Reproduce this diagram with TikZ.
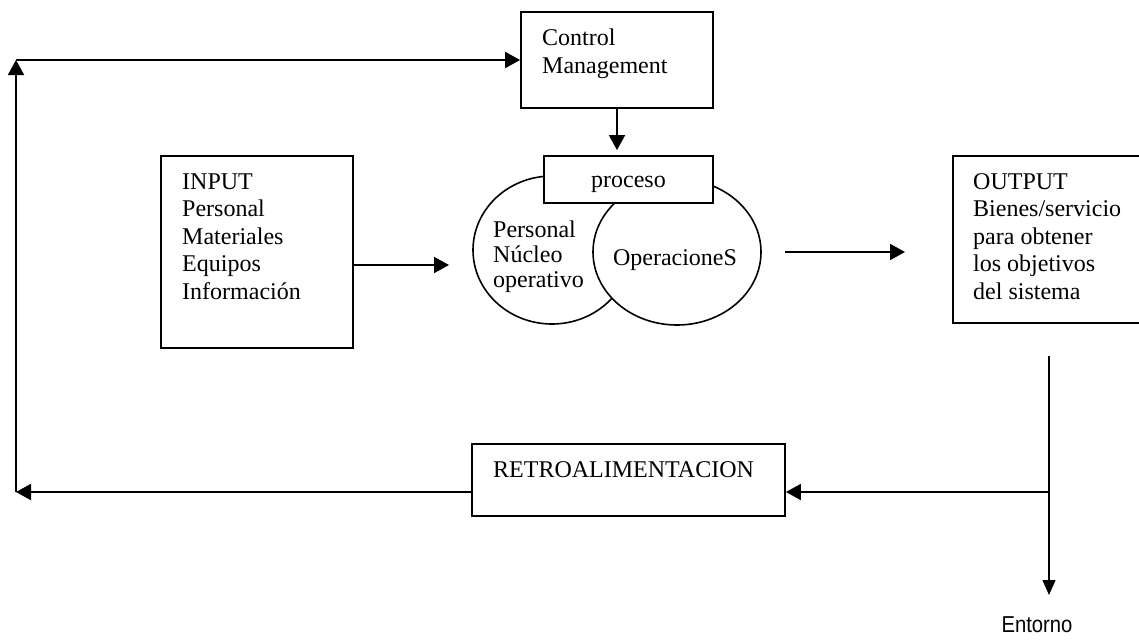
\documentclass[tikz,border=0pt]{standalone}
\usepackage{fontspec}
\setmainfont{Liberation Serif}
\newfontfamily\entfont[FakeStretch=0.88]{Liberation Sans}
\usetikzlibrary{arrows.meta,shapes.geometric}
\begin{document}
\begin{tikzpicture}[x=1pt,y=-1pt,
  box/.style={draw,line width=1.8pt,inner sep=0pt,fill=white},
  oval/.style={draw,ellipse,line width=1.6pt,inner sep=0pt,fill=white},
  txt/.style={inner sep=0pt,anchor=base west,align=left,font=\fontsize{24}{27.5}\selectfont},
  conn/.style={line width=1.9pt,-{Triangle[length=15pt,width=16pt]}},
  thin/.style={line width=1.2pt,-{Triangle[length=15pt,width=13pt]}}]
\useasboundingbox (0,0) rectangle (1139,643);
\clip (0,0) rectangle (1139,643);
% boxes
\node[box,minimum width=192pt,minimum height=96pt] (ctrl) at (617,60) {};
\node[txt,font=\fontsize{24}{28}\selectfont] (ctrltxt) at (542,73) {Control\\Management};
\node[box,minimum width=192pt,minimum height=192pt] (inp) at (257,252) {};
\node[txt] (inptxt) at (182,299) {INPUT\\Personal\\Materiales\\Equipos\\Información};
\node[box,minimum width=192pt,minimum height=167pt] (outb) at (1049,239.5) {};
\node[txt] (outtxt) at (973,299) {OUTPUT\\Bienes/servicio\\para obtener\\los objetivos\\del sistema};
\node[box,minimum width=313pt,minimum height=72pt] (retro) at (628.5,480) {};
\node[txt] (retrotxt) at (493,477) {RETROALIMENTACION};
% process
\node[oval,minimum width=158pt,minimum height=148pt] (lell) at (552,250) {};
\node[txt,font=\fontsize{24}{25}\selectfont] (lelltxt) at (493,287) {Personal\\Núcleo\\operativo};
\node[oval,minimum width=168pt,minimum height=146pt] (rell) at (677,252) {};
\node[txt,anchor=base] (relltxt) at (675,265) {OperacioneS};
\node[box,minimum width=169pt,minimum height=47pt] (proc) at (628.5,179.5) {};
\node[txt,anchor=base] (proctxt) at (628.5,187) {proceso};
% coordinates
\coordinate (cl) at (16,60);
\coordinate (bl) at (16,492);
\coordinate (inR) at (449,265);
\coordinate (oa1) at (785,252);
\coordinate (oa2) at (905,252);
\coordinate (vt) at (1049,356);
\coordinate (vm) at (1049,492);
\coordinate (vb) at (1049,595);
% connectors
\draw[conn] (retro.west |- bl) -- (bl);
\draw[conn] (bl) -- (cl);
\draw[conn] (cl) -- (ctrl.west |- cl);
\draw[conn,shorten >=5pt] (ctrl.south) -- (ctrl.south |- proc.north);
\draw[conn] (inp.east |- inR) -- (inR);
\draw[conn] (oa1) -- (oa2);
\draw[thin] (vt) -- (vb);
\draw[conn] (vm) -- (retro.east |- vm);
\node[inner sep=0pt,anchor=base,font=\entfont\fontsize{23}{26}\selectfont] (ent) at (1037,632) {Entorno};
\end{tikzpicture}
\end{document}
